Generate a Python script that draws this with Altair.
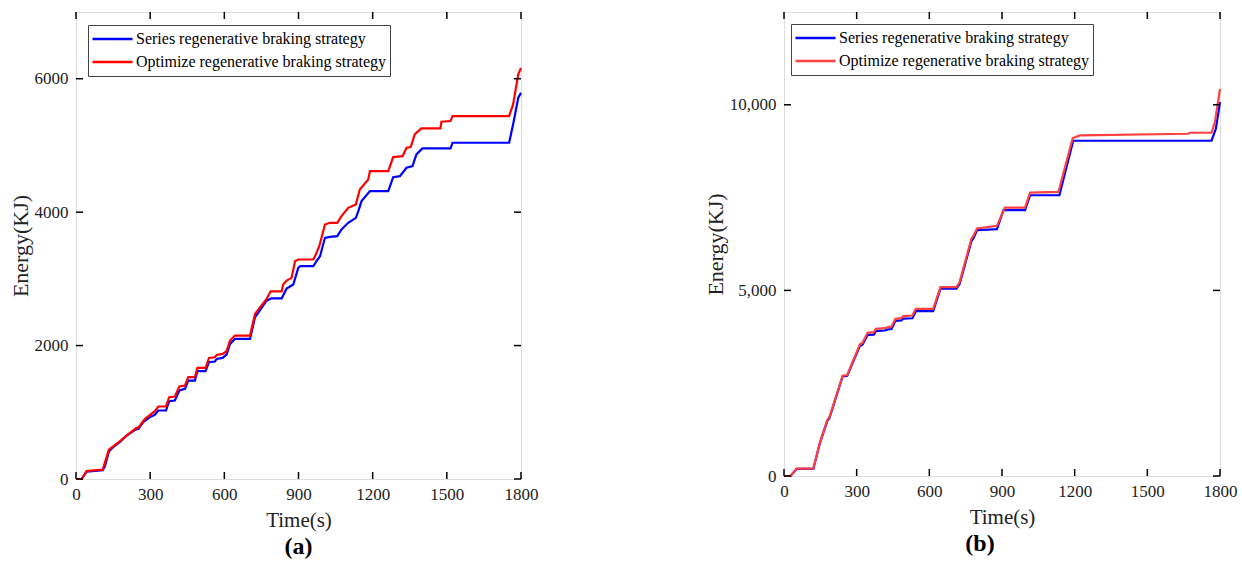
import altair as alt
import pandas as pd

SER = "Series regenerative braking strategy"
OPT = "Optimize regenerative braking strategy"

# ---- panel (a) ----
a_ser_t = [0, 23, 43, 108, 117, 133, 151, 178, 205, 243,
           253, 272, 299, 319, 333, 364, 377, 400, 418, 441,
           454, 481, 491, 524, 538, 562, 569, 593, 609, 623,
           643, 704, 724, 771, 791, 832, 852, 879, 899, 907,
           960, 973, 987, 1007, 1027, 1057, 1074, 1101, 1132, 1142,
           1155, 1189, 1263, 1283, 1310, 1337, 1361, 1377, 1401, 1515,
           1523, 1752, 1768, 1789, 1800]
a_ser_e = [0, 0, 110, 130, 190, 414, 479, 554, 653, 743,
           753, 853, 928, 963, 1027, 1027, 1167, 1177, 1327, 1352,
           1476, 1476, 1616, 1616, 1751, 1761, 1800, 1815, 1865, 2025,
           2100, 2100, 2424, 2673, 2708, 2708, 2855, 2915, 3165, 3190,
           3190, 3265, 3340, 3615, 3630, 3640, 3740, 3840, 3915, 4015,
           4165, 4315, 4315, 4525, 4540, 4665, 4690, 4865, 4955, 4955,
           5040, 5040, 5315, 5715, 5790]
a_opt_t = [0, 23, 43, 108, 133, 178, 243, 253, 279, 319,
           333, 364, 377, 400, 418, 441, 454, 481, 491, 524,
           538, 562, 569, 593, 609, 623, 643, 704, 724, 771,
           787, 832, 838, 852, 872, 886, 899, 960, 970, 984,
           1007, 1027, 1057, 1074, 1101, 1132, 1148, 1182, 1189, 1263,
           1283, 1321, 1337, 1354, 1370, 1397, 1474, 1478, 1515, 1523,
           1752, 1768, 1789, 1800]
a_opt_e = [0, 0, 120, 140, 439, 569, 763, 773, 903, 1017,
           1087, 1087, 1227, 1237, 1387, 1402, 1526, 1526, 1666, 1666,
           1815, 1825, 1860, 1875, 1915, 2075, 2150, 2150, 2474, 2698,
           2813, 2813, 2915, 2975, 3015, 3265, 3290, 3290, 3365, 3490,
           3815, 3840, 3840, 3940, 4065, 4115, 4340, 4490, 4615, 4615,
           4825, 4840, 4965, 4975, 5165, 5255, 5255, 5355, 5365, 5440,
           5440, 5615, 6065, 6160]

# ---- panel (b) ----
b_ser_t = [0, 27, 52, 121, 148, 179, 187, 242, 261, 313,
           324, 345, 371, 379, 416, 430, 444, 460, 485, 492,
           530, 544, 616, 646, 712, 725, 774, 783, 797, 879,
           906, 995, 1016, 1137, 1194, 1765, 1783, 1800]
b_ser_e = [0, 0, 190, 190, 880, 1490, 1550, 2680, 2700, 3500,
           3540, 3800, 3810, 3900, 3920, 3950, 3960, 4180, 4190, 4240,
           4250, 4440, 4440, 5050, 5050, 5170, 6330, 6420, 6620, 6650,
           7160, 7160, 7563, 7563, 9032, 9032, 9355, 10072]
b_opt_t = [0, 27, 52, 121, 148, 179, 187, 242, 261, 313,
           324, 345, 371, 379, 416, 430, 444, 460, 485, 492,
           530, 544, 616, 646, 712, 725, 774, 783, 797, 879,
           912, 995, 1016, 1133, 1192, 1222, 1669, 1676, 1765, 1779,
           1800]
b_opt_e = [0, 0, 198, 198, 901, 1514, 1577, 2703, 2721, 3541,
           3586, 3856, 3874, 3964, 3982, 4009, 4027, 4234, 4252, 4306,
           4324, 4504, 4504, 5090, 5090, 5225, 6396, 6486, 6667, 6739,
           7231, 7231, 7635, 7652, 9104, 9176, 9220, 9247, 9247, 9534,
           10430]

x_ticks = [0, 300, 600, 900, 1200, 1500, 1800]
a_y_ticks = [0, 2000, 4000, 6000]
b_y_ticks = [0, 5000, 10000]

FONT = "Liberation Serif"


def panel(ser_t, ser_e, opt_t, opt_e, ymax, yticks, yfmt, red, W, H,
          caption, legx, legy, cap_dx):
    d_ser = pd.DataFrame({"t": ser_t, "E": ser_e, "series": SER})
    d_opt = pd.DataFrame({"t": opt_t, "E": opt_e, "series": OPT})
    xs = alt.Scale(domain=[0, 1800], nice=False, zero=False)
    ys = alt.Scale(domain=[0, ymax], nice=False)
    xaxis = alt.Axis(values=x_ticks, format="d", title="Time(s)", ticks=False,
                     domain=False, grid=False, labelFont=FONT, labelFontSize=17,
                     labelColor="#222", labelPadding=7, titleFont=FONT,
                     titleFontSize=21, titleFontWeight="normal", titleColor="#222",
                     titlePadding=7, labelFlush=False)
    yaxis = alt.Axis(values=yticks, format=yfmt, title="Energy(KJ)", ticks=False,
                     domain=False, grid=False, labelFont=FONT, labelFontSize=17,
                     labelColor="#222", labelPadding=8, titleFont=FONT,
                     titleFontSize=22, titleFontWeight="normal", titleColor="#222",
                     titlePadding=2, labelFlush=False)
    legend = alt.Legend(title=None, orient="none", legendX=legx, legendY=legy,
                        direction="vertical", strokeColor="#444", fillColor="white",
                        padding=3, symbolType="stroke", symbolSize=1600,
                        symbolStrokeWidth=2.5, labelFont=FONT, labelFontSize=16,
                        labelColor="black", labelLimit=400, clipHeight=22,
                        rowPadding=1, labelOffset=2)
    color = alt.Color("series:N",
                      scale=alt.Scale(domain=[SER, OPT], range=["#0000FF", red]),
                      legend=legend)
    base_ser = alt.Chart(d_ser).mark_line(strokeWidth=2.2).encode(
        x=alt.X("t:Q", scale=xs, axis=xaxis),
        y=alt.Y("E:Q", scale=ys, axis=yaxis),
        color=color)
    base_opt = alt.Chart(d_opt).mark_line(strokeWidth=2.2).encode(
        x=alt.X("t:Q", scale=xs, axis=xaxis),
        y=alt.Y("E:Q", scale=ys, axis=yaxis),
        color=color)
    dx = pd.DataFrame({"t": x_ticks})
    dy = pd.DataFrame({"E": yticks})
    tk = dict(color="black", strokeWidth=1.5)
    bottom = alt.Chart(dx).mark_rule(**tk).encode(
        x=alt.X("t:Q", scale=xs), y=alt.value(H), y2=alt.value(H - 7))
    top = alt.Chart(dx).mark_rule(**tk).encode(
        x=alt.X("t:Q", scale=xs), y=alt.value(0), y2=alt.value(7))
    left = alt.Chart(dy).mark_rule(**tk).encode(
        y=alt.Y("E:Q", scale=ys), x=alt.value(0), x2=alt.value(7))
    right = alt.Chart(dy).mark_rule(**tk).encode(
        y=alt.Y("E:Q", scale=ys), x=alt.value(W - 7), x2=alt.value(W))
    return alt.layer(base_ser, base_opt, bottom, top, left, right).properties(
        width=W, height=H,
        title=alt.TitleParams(caption, orient="bottom", font=FONT, fontSize=24,
                              fontWeight="bold", color="black", offset=5,
                              anchor="middle", frame="group", dx=cap_dx))


pa = panel(a_ser_t, a_ser_e, a_opt_t, a_opt_e, 7000, a_y_ticks, "d", "#FF0000",
           445, 467, "(a)", 12, 13, 0)
pb = panel(b_ser_t, b_ser_e, b_opt_t, b_opt_e, 12500, b_y_ticks, ",d", "#FF4040",
           436, 464, "(b)", 7, 12, -22)

chart = alt.hconcat(pa, pb, spacing=263, bounds="flush").resolve_scale(
    color="independent", x="independent", y="independent"
).resolve_legend(color="independent").properties(
    padding={"left": 8, "top": 10, "right": 0, "bottom": 0}
).configure_view(stroke="black", strokeWidth=1.5).configure(background="white")

chart.save("out.html", embed_options={"renderer": "svg", "actions": False})
